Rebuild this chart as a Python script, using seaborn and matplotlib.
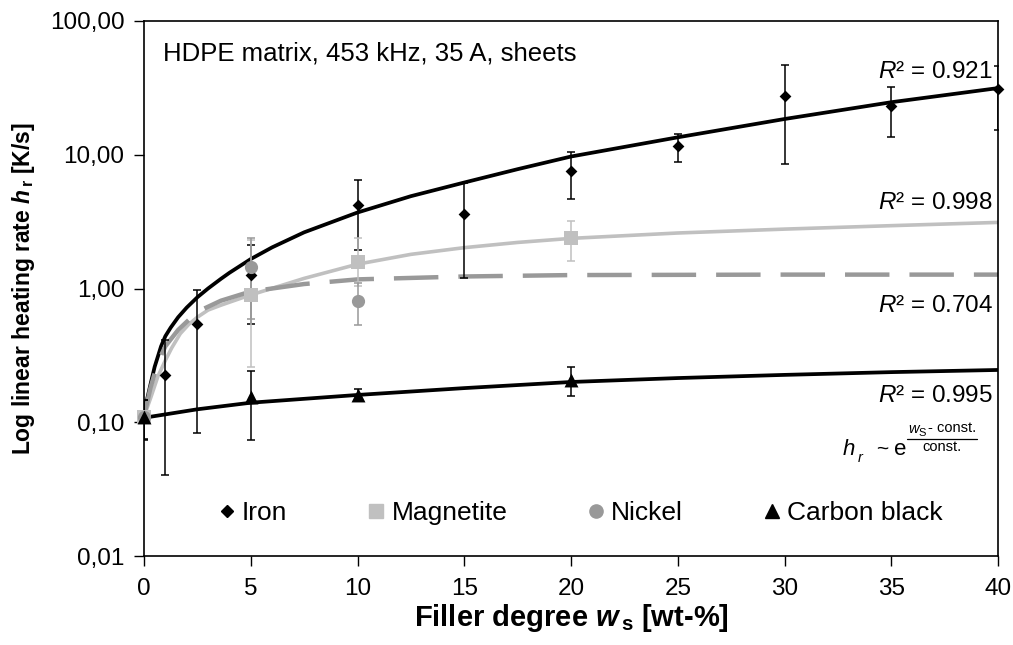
import numpy as np
import pandas as pd
import matplotlib
matplotlib.use('Agg')
import matplotlib.pyplot as plt
import seaborn as sns
from matplotlib.lines import Line2D
from matplotlib.ticker import FixedLocator, NullLocator

# ---------------- data ----------------
iron_x = [0, 1, 2.5, 5, 10, 15, 20, 25, 30, 35, 40]
iron_y = [0.11, 0.227, 0.54, 1.27, 4.2, 3.58, 7.5, 11.6, 27.4, 23.1, 31.0]
iron_lo = [0.075, 0.04, 0.083, 0.54, 1.93, 1.19, 4.64, 8.9, 8.6, 13.5, 15.3]
iron_hi = [0.147, 0.41, 0.98, 2.13, 6.5, 6.2, 10.4, 14.2, 46.8, 32.0, 46.0]

mag_x = [0, 5, 10, 20]
mag_y = [0.11, 0.90, 1.58, 2.40]
mag_lo = [0.11, 0.26, 1.05, 1.60]
mag_hi = [0.11, 2.30, 2.37, 3.17]

nick_x = [0, 5, 10]
nick_y = [0.11, 1.45, 0.81]
nick_lo = [0.11, 0.59, 0.53]
nick_hi = [0.11, 2.40, 1.09]

cb_x = [0, 5, 10, 20]
cb_y = [0.11, 0.155, 0.16, 0.208]
cb_lo = [0.074, 0.074, 0.15, 0.158]
cb_hi = [0.147, 0.24, 0.178, 0.26]

# fitted trend curves
fit_iron_x = [0, 0.15, 0.33, 0.5, 0.65, 0.8, 1, 1.25, 1.6, 2, 2.5, 3, 3.6, 4, 5, 6,
              7.5, 10, 12.5, 15, 17.5, 20, 25, 30, 35, 40]
fit_iron_y = [0.11, 0.15, 0.20, 0.26, 0.31, 0.37, 0.44, 0.51, 0.61, 0.72, 0.86, 1.0, 1.18, 1.31, 1.66, 2.03,
              2.63, 3.7, 4.9, 6.2, 7.8, 9.7, 13.5, 18.5, 24.7, 31.5]

fit_mag_x = [0, 0.33, 0.65, 1, 1.3, 1.7, 2.1, 2.5, 3, 3.6, 4.2, 4.9, 5.8, 7.5, 10, 12.5, 15, 17.5,
             20, 25, 30, 35, 40]
fit_mag_y = [0.11, 0.155, 0.22, 0.29, 0.36, 0.46, 0.54, 0.61, 0.69, 0.75, 0.81, 0.885, 0.98, 1.19, 1.52,
             1.80, 2.02, 2.21, 2.37, 2.60, 2.78, 2.95, 3.12]

fit_nick_x = [0, 0.3, 0.65, 1, 1.6, 2.5, 3.6, 5, 7.5, 10, 15, 20, 30, 40]
fit_nick_y = [0.11, 0.18, 0.28, 0.37, 0.49, 0.67, 0.81, 0.95, 1.08, 1.17, 1.23, 1.26, 1.27, 1.27]

fit_cb_x = [0, 2.5, 5, 10, 15, 20, 25, 30, 35, 40]
fit_cb_y = [0.108, 0.125, 0.14, 0.16, 0.18, 0.20, 0.214, 0.226, 0.237, 0.246]

names = ['Iron', 'Magnetite', 'Nickel', 'Carbon black']
r2_labels = ['0.921', '0.998', '0.704', '0.995']
y_ticks = [0.01, 0.1, 1, 10, 100]
y_ticklabels = ['0,01', '0,10', '1,00', '10,00', '100,00']
x_ticks = [0, 5, 10, 15, 20, 25, 30, 35, 40]

# ---------------- style ----------------
sns.set_style('ticks')
plt.rcParams['font.family'] = ['Liberation Sans', 'DejaVu Sans']
plt.rcParams['text.color'] = 'black'
plt.rcParams['axes.labelcolor'] = 'black'
plt.rcParams['mathtext.fontset'] = 'custom'
plt.rcParams['mathtext.rm'] = 'Liberation Sans'
plt.rcParams['mathtext.it'] = 'Liberation Sans:italic'
plt.rcParams['mathtext.bf'] = 'Liberation Sans:bold'
plt.rcParams['mathtext.bfit'] = 'Liberation Sans:bold:italic'

BLACK = '#000000'
LGRAY = '#c0c0c0'
DGRAY = '#999999'

W, H = 1013, 645
fig = plt.figure(figsize=(W / 100, H / 100), dpi=100)
ax = fig.add_axes([144 / W, 1 - 556 / H, (998 - 144) / W, (556 - 21) / H])


def px(x, y):
    return (x / W, 1 - y / H)


# curves
curves = [
    (fit_iron_x, fit_iron_y, BLACK, '-', 2.7),
    (fit_mag_x, fit_mag_y, LGRAY, '-', 2.6),
    (fit_nick_x, fit_nick_y, DGRAY, '--', 3.2),
    (fit_cb_x, fit_cb_y, BLACK, '-', 2.7),
]
for cx, cy, col, ls, lw in curves:
    df = pd.DataFrame({'x': cx, 'y': cy})
    sns.lineplot(data=df, x='x', y='y', ax=ax, color=col, lw=lw,
                 sort=False, estimator=None, zorder=2)
line_objs = ax.get_lines()
line_objs[2].set_dashes([10, 4.5])
for ln in line_objs:
    ln.set_solid_joinstyle('round')

# error bars
series = [
    (iron_x, iron_y, iron_lo, iron_hi, BLACK, 'D', 6),
    (mag_x, mag_y, mag_lo, mag_hi, LGRAY, 's', 9.5),
    (nick_x, nick_y, nick_lo, nick_hi, DGRAY, 'o', 9.5),
    (cb_x, cb_y, cb_lo, cb_hi, BLACK, '^', 10),
]
for sx, sy, lo, hi, col, mk, ms in series:
    sy_a = np.array(sy)
    yerr = [sy_a - np.array(lo), np.array(hi) - sy_a]
    ax.errorbar(sx, sy, yerr=yerr, fmt='none', ecolor=col, elinewidth=1.1,
                capsize=3.2, capthick=1.1, zorder=3)

for sx, sy, lo, hi, col, mk, ms in series:
    df = pd.DataFrame({'x': sx, 'y': sy})
    sns.scatterplot(data=df, x='x', y='y', ax=ax, color=col, marker=mk,
                    s=ms ** 2, edgecolor=col, linewidth=0, zorder=4, clip_on=False)

ax.set_yscale('log')
ax.set_ylim(0.01, 100)
ax.set_xlim(0, 40)
ax.yaxis.set_major_locator(FixedLocator(y_ticks))
ax.yaxis.set_minor_locator(NullLocator())
ax.set_yticklabels(y_ticklabels)
ax.set_xticks(x_ticks)
ax.set_xticklabels([str(v) for v in x_ticks])
ax.tick_params(axis='both', direction='out', length=7, width=1, labelsize=17.5, colors='black')
ax.tick_params(axis='y', pad=7)
ax.tick_params(axis='x', pad=9)
for s in ax.spines.values():
    s.set_color('black')
    s.set_linewidth(1.2)

ax.set_xlabel(r'Filler degree $\boldsymbol{w}_\mathbf{\,s}$ [wt-%]', fontsize=21, fontweight='bold', labelpad=1)
ax.set_ylabel(r'Log linear heating rate $\boldsymbol{h}_\mathbf{\,r}$ [K/s]', fontsize=16.5, fontweight='bold', labelpad=9)

ax.text(0.022, 0.94, 'HDPE matrix, 453 kHz, 35 A, sheets', transform=ax.transAxes,
        fontsize=18.5, ha='left', va='center')

r2_y = [0.905, 0.66, 0.467, 0.30]
for yy, lab in zip(r2_y, r2_labels):
    ax.text(0.994, yy, r'$R$' + '\u00b2 = ' + lab, transform=ax.transAxes,
            fontsize=17.5, ha='right', va='center')

# formula  h_r ~ e^((w_s - const.)/const.)
fig.text(*px(843, 455), 'h', fontsize=16, style='italic', ha='left', va='baseline')
fig.text(*px(858, 462), 'r', fontsize=10.5, style='italic', ha='left', va='baseline')
fig.text(*px(876, 455), '~', fontsize=15, ha='left', va='baseline')
fig.text(*px(894, 455), 'e', fontsize=16, ha='left', va='baseline')
fig.text(*px(908, 433), 'w', fontsize=10.5, style='italic', ha='left', va='baseline')
fig.text(*px(918.5, 436), 'S', fontsize=8, ha='left', va='baseline')
fig.text(*px(928, 432), '- const.', fontsize=10.5, ha='left', va='baseline')
fig.text(*px(922, 451), 'const.', fontsize=10.5, ha='left', va='baseline')
fig.add_artist(Line2D([907 / W, 977 / W], [1 - 438.5 / H, 1 - 438.5 / H], color='black', lw=0.9,
                      transform=fig.transFigure))

handles = [
    Line2D([], [], ls='none', marker='D', color=BLACK, markersize=6),
    Line2D([], [], ls='none', marker='s', color=LGRAY, markersize=9.5),
    Line2D([], [], ls='none', marker='o', color=DGRAY, markersize=9.5),
    Line2D([], [], ls='none', marker='^', color=BLACK, markersize=9.5),
]
ax.legend(handles, names, loc='center left', bbox_to_anchor=(0.088, 0.080), ncol=4,
          frameon=False, fontsize=19, handletextpad=0.27, columnspacing=3.07,
          handlelength=0.6, borderpad=0, borderaxespad=0)

fig.savefig('out.png', dpi=100)
